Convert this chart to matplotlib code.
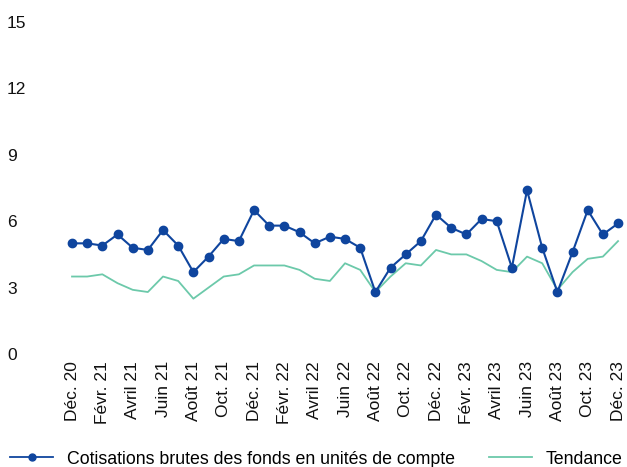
import matplotlib.pyplot as plt
from matplotlib.lines import Line2D

plt.rcParams['font.family'] = ['Liberation Sans', 'DejaVu Sans']

months = list(range(37))
tick_labels = ['Déc. 20', 'Févr. 21', 'Avril 21', 'Juin 21', 'Août 21', 'Oct. 21',
               'Déc. 21', 'Févr. 22', 'Avril 22', 'Juin 22', 'Août 22', 'Oct. 22',
               'Déc. 22', 'Févr. 23', 'Avril 23', 'Juin 23', 'Août 23', 'Oct. 23',
               'Déc. 23']

# cotisations brutes UC (monthly)
cotisations = [5.0, 5.0, 4.9, 5.4, 4.8, 4.7, 5.6, 4.9, 3.7, 4.4, 5.2, 5.1,
               6.5, 5.8, 5.8, 5.5, 5.0, 5.3, 5.2, 4.8, 2.8, 3.9, 4.5, 5.1,
               6.3, 5.7, 5.4, 6.1, 6.0, 3.9, 7.4, 4.8, 2.8, 4.6, 6.5, 5.4,
               5.9]
tendance = [3.5, 3.5, 3.6, 3.2, 2.9, 2.8, 3.5, 3.3, 2.5, 3.0, 3.5, 3.6,
            4.0, 4.0, 4.0, 3.8, 3.4, 3.3, 4.1, 3.8, 2.8, 3.5, 4.1, 4.0,
            4.7, 4.5, 4.5, 4.2, 3.8, 3.7, 4.4, 4.1, 2.9, 3.7, 4.3, 4.4,
            5.1]

blue = '#0f459e'
teal = '#6cc9aa'

fig = plt.figure(figsize=(6.27, 4.67), dpi=100)
ax = fig.add_axes([57 / 627, 113 / 467, 570 / 627, 332 / 467])

ax.plot(months, tendance, color=teal, linewidth=1.3)
ax.plot(months, cotisations, color=blue, linewidth=1.5, marker='o', markersize=6)

ax.set_xlim(-0.99, 36.59)
ax.set_ylim(0, 15)
ax.set_yticks([0, 3, 6, 9, 12, 15])
ax.set_xticks(months[::2])
ax.set_xticklabels(tick_labels, rotation=90, fontsize=12.5)
ax.tick_params(axis='both', length=0, labelsize=12.5, colors='#111111')
ax.tick_params(axis='x', pad=5)
ax.tick_params(axis='y', pad=36)
for lab in ax.get_yticklabels():
    lab.set_horizontalalignment('left')
for s in ax.spines.values():
    s.set_visible(False)

handles = [Line2D([], [], color=blue, marker='o', markersize=5, linewidth=1.3),
           Line2D([], [], color=teal, linewidth=1.3)]
fig.legend(handles, ['Cotisations brutes des fonds en unités de compte', 'Tendance'],
           loc='center left', bbox_to_anchor=(10 / 627, 8 / 467), ncol=2, frameon=False,
           fontsize=12.8, handlelength=2.42, columnspacing=1.9, handletextpad=0.79,
           borderaxespad=0, borderpad=0)

fig.savefig('out.png', dpi=100)
